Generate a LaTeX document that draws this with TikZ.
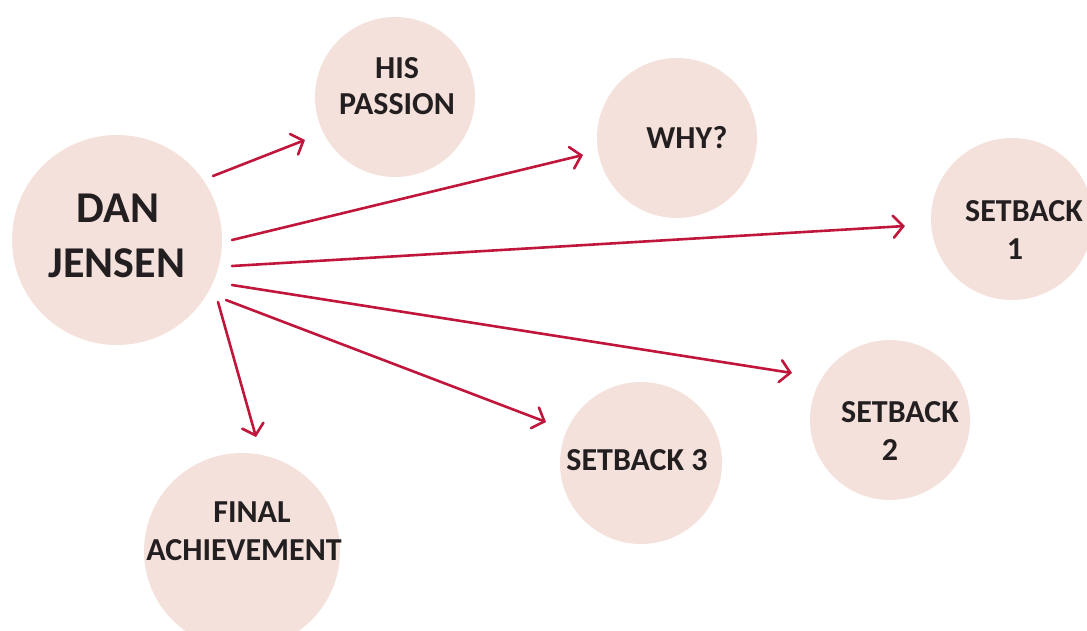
\documentclass[tikz,border=0pt]{standalone}
\usepackage{fontspec}
\setmainfont{Carlito}
\usetikzlibrary{arrows.meta}
\definecolor{bubble}{HTML}{F5E1DC}
\definecolor{arrowred}{HTML}{C0163C}
\definecolor{ink}{HTML}{231F20}
\tikzset{
  bubble/.style={circle, fill=bubble, draw=none, inner sep=0pt},
  label/.style={inner sep=0pt, text=ink, font=\bfseries\fontsize{32}{38}\selectfont},
  biglabel/.style={label, font=\bfseries\fontsize{44}{52}\selectfont},
  link/.style={draw=arrowred, line width=2.6pt, line cap=round,
     -{Straight Barb[length=10pt, width=22pt, line width=2.6pt, line cap=round]}}
}
\begin{document}
\begin{tikzpicture}[x=1pt,y=-1pt]
\useasboundingbox (0,0) rectangle (1087,630);
\begin{scope}
\clip (0,0) rectangle (1087,630);
\node[bubble, minimum size=210pt] (dan) at (117,240) {};
\node[bubble, minimum size=160pt] (passion) at (395,97) {};
\node[bubble, minimum size=160pt] (why) at (677,138) {};
\node[bubble, minimum size=162pt] (sb1) at (1012,219) {};
\node[bubble, minimum size=160pt] (sb2) at (890,420) {};
\node[bubble, minimum size=162pt] (sb3) at (641,463) {};
\node[bubble, minimum size=196pt] (final) at (242,551) {};
\end{scope}
\node[biglabel] (t-dan) at (118,208) {DAN};
\node[biglabel] (t-jensen) at (117,263) {JENSEN};
\node[label] (t-his) at (397,68) {HIS};
\node[label] (t-passion) at (397,104) {PASSION};
\node[label] (t-why) at (687,138) {WHY?};
\node[label] (t-sb1a) at (1024,211) {SETBACK};
\node[label] (t-sb1b) at (1015,249) {1};
\node[label] (t-sb2a) at (900,412) {SETBACK};
\node[label] (t-sb2b) at (890,450) {2};
\node[label] (t-sb3) at (637,460) {SETBACK 3};
\node[label] (t-final) at (252,512) {FINAL};
\node[label] (t-ach) at (244,550) {ACHIEVEMENT};
\coordinate (s1) at (213,176); \coordinate (e1) at (305,140);
\coordinate (s2) at (232,240); \coordinate (e2) at (583,155);
\coordinate (s3) at (232,266); \coordinate (e3) at (905,226);
\coordinate (s4) at (232,285); \coordinate (e4) at (792,373);
\coordinate (s5) at (226,300); \coordinate (e5) at (546,422);
\coordinate (s6) at (218,302); \coordinate (e6) at (256,437);
\draw[link] (s1) -- (e1);
\draw[link] (s2) -- (e2);
\draw[link] (s3) -- (e3);
\draw[link] (s4) -- (e4);
\draw[link] (s5) -- (e5);
\draw[link] (s6) -- (e6);
\end{tikzpicture}
\end{document}
